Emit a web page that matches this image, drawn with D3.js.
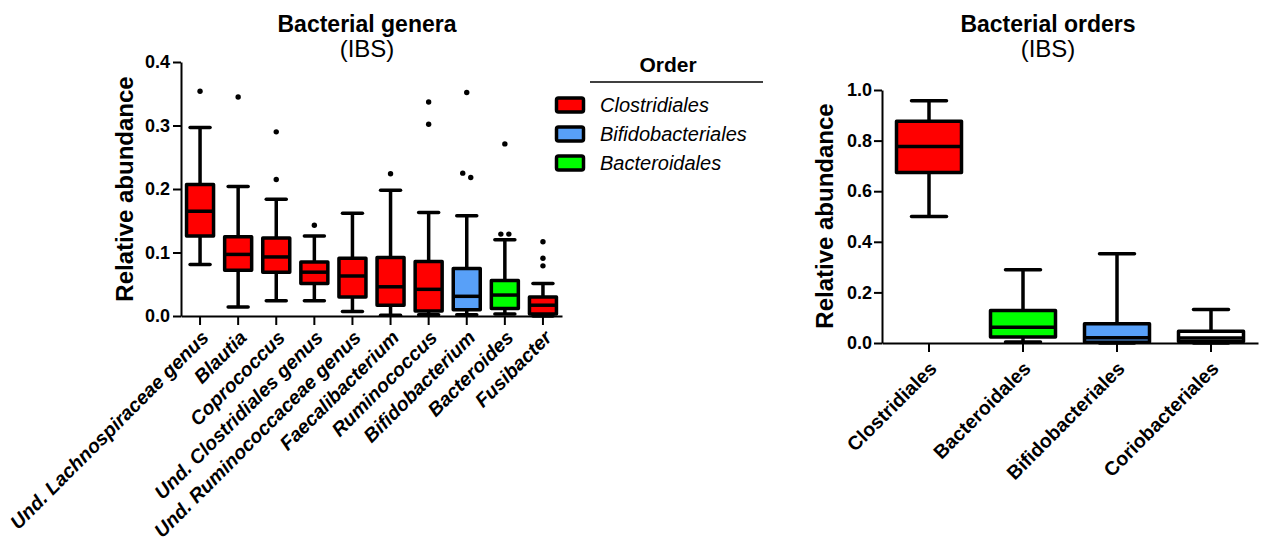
<!DOCTYPE html>
<html>
<head>
<meta charset="utf-8">
<script src="https://cdn.jsdelivr.net/npm/d3@7"></script>
<style>
  body { margin: 0; background: #fff; }
  text { font-family: "Liberation Sans", Arial, sans-serif; fill: #000; }
</style>
</head>
<body>
<svg id="chart" width="1264" height="543"></svg>
<script>
// ---- data: genera (left panel) ----
var genera = ["Und. Lachnospiraceae genus", "Blautia", "Coprococcus", "Und. Clostridiales genus",
  "Und. Ruminococcaceae genus", "Faecalibacterium", "Ruminococcus", "Bifidobacterium",
  "Bacteroides", "Fusibacter"];
var generaOrder = ["Clostridiales", "Clostridiales", "Clostridiales", "Clostridiales",
  "Clostridiales", "Clostridiales", "Clostridiales", "Bifidobacteriales",
  "Bacteroidales", "Clostridiales"];
var generaLow    = [0.081, 0.014, 0.024, 0.024, 0.007, 0.001, 0.002, 0.002, 0.003, 0.000];
var generaQ1     = [0.126, 0.072, 0.069, 0.051, 0.030, 0.017, 0.008, 0.010, 0.012, 0.003];
var generaMedian = [0.165, 0.097, 0.093, 0.069, 0.063, 0.046, 0.042, 0.031, 0.033, 0.017];
var generaQ3     = [0.207, 0.125, 0.123, 0.085, 0.091, 0.092, 0.086, 0.075, 0.056, 0.030];
var generaHigh   = [0.297, 0.204, 0.184, 0.126, 0.162, 0.198, 0.163, 0.158, 0.120, 0.051];
var generaOutliers = [[0.354], [0.345], [0.290, 0.215], [0.143], [], [0.224],
  [0.337, 0.302], [0.352, 0.225, 0.218], [0.271, 0.129, 0.129], [0.117, 0.091, 0.079]];
var generaTicks = [0, 0.1, 0.2, 0.3, 0.4];

// ---- data: orders (right panel) ----
var orders = ["Clostridiales", "Bacteroidales", "Bifidobacteriales", "Coriobacteriales"];
var ordersLow    = [0.500, 0.004, 0.000, 0.000];
var ordersQ1     = [0.674, 0.024, 0.003, 0.006];
var ordersMedian = [0.777, 0.062, 0.021, 0.020];
var ordersQ3     = [0.876, 0.128, 0.076, 0.046];
var ordersHigh   = [0.958, 0.290, 0.353, 0.132];
var ordersTicks = [0, 0.2, 0.4, 0.6, 0.8, 1.0];

var legendOrders = ["Clostridiales", "Bifidobacteriales", "Bacteroidales"];
var orderColor = {
  Clostridiales: "#ff0000",
  Bifidobacteriales: "#58a0f8",
  Bacteroidales: "#00ff00",
  Coriobacteriales: "#ffffff"
};

var svg = d3.select("#chart");
var SW = 3.5;

function boxPlot(g, x, y, names, low, q1, med, q3, high, colors, boxW, capW) {
  names.forEach(function(name, i) {
    var cx = x(name) + x.bandwidth() / 2;
    var b = g.append("g");
    // whiskers
    b.append("line").attr("x1", cx).attr("x2", cx)
      .attr("y1", y(low[i])).attr("y2", y(high[i]))
      .attr("stroke", "#000").attr("stroke-width", SW);
    [low[i], high[i]].forEach(function(v) {
      b.append("line").attr("x1", cx - capW / 2).attr("x2", cx + capW / 2)
        .attr("y1", y(v)).attr("y2", y(v))
        .attr("stroke", "#000").attr("stroke-width", SW).attr("stroke-linecap", "round");
    });
    b.append("rect")
      .attr("x", cx - boxW / 2).attr("width", boxW)
      .attr("y", y(q3[i])).attr("height", y(q1[i]) - y(q3[i]))
      .attr("fill", colors[i]).attr("stroke", "#000").attr("stroke-width", SW)
      .attr("stroke-linejoin", "round");
    b.append("line").attr("x1", cx - boxW / 2).attr("x2", cx + boxW / 2)
      .attr("y1", y(med[i])).attr("y2", y(med[i]))
      .attr("stroke", "#000").attr("stroke-width", SW);
  });
}

function styleAxis(g) {
  g.selectAll(".domain").attr("stroke-width", 2);
  g.selectAll(".tick line").attr("stroke-width", 2);
  g.selectAll("text").attr("font-size", 18).attr("font-weight", "bold");
}

// ================= left panel =================
var yG = d3.scaleLinear().domain([0, 0.4]).range([316, 62]);
var xG = d3.scaleBand().domain(genera).range([181, 562]);

var gl = svg.append("g");

gl.append("g").attr("transform", "translate(181,0)")
  .call(d3.axisLeft(yG).tickValues(generaTicks).tickFormat(d3.format(".1f"))
    .tickSize(8).tickPadding(3).tickSizeOuter(0))
  .call(styleAxis);

var xAxisG = gl.append("g").attr("transform", "translate(0,316)")
  .call(d3.axisBottom(xG).tickSize(9).tickSizeOuter(0))
  .call(styleAxis);
xAxisG.selectAll("text")
  .attr("font-style", "italic").attr("font-size", 19.5)
  .attr("text-anchor", "end").attr("x", 0).attr("y", 0).attr("dy", "0.35em")
  .attr("transform", "translate(5,18) rotate(-45)");

boxPlot(gl, xG, yG, genera, generaLow, generaQ1, generaMedian, generaQ3, generaHigh,
  generaOrder.map(function(o) { return orderColor[o]; }), 27, 20);

// outliers, dodged sideways when they would overlap
genera.forEach(function(name, i) {
  var cx = xG(name) + xG.bandwidth() / 2;
  var pts = generaOutliers[i].map(function(v) { return { v: v, dx: 0 }; });
  for (var k = 1; k < pts.length; k++) {
    if (Math.abs(yG(pts[k].v) - yG(pts[k - 1].v)) < 6) {
      pts[k - 1].dx = -4; pts[k].dx = 4;
    }
  }
  pts.forEach(function(p) {
    gl.append("circle").attr("cx", cx + p.dx).attr("cy", yG(p.v)).attr("r", 2.7).attr("fill", "#000");
  });
});

gl.append("text").attr("transform", "translate(133,189) rotate(-90)")
  .attr("text-anchor", "middle").attr("font-size", 24).attr("font-weight", "bold")
  .text("Relative abundance");
gl.append("text").attr("x", 367).attr("y", 32).attr("text-anchor", "middle")
  .attr("font-size", 23).attr("font-weight", "bold").text("Bacterial genera");
gl.append("text").attr("x", 367).attr("y", 57).attr("text-anchor", "middle")
  .attr("font-size", 24).text("(IBS)");

// legend
var lg = svg.append("g");
lg.append("text").attr("x", 668).attr("y", 72).attr("text-anchor", "middle")
  .attr("font-size", 21).attr("font-weight", "bold").text("Order");
lg.append("line").attr("x1", 590).attr("x2", 763).attr("y1", 82).attr("y2", 82)
  .attr("stroke", "#000").attr("stroke-width", 1.5);
legendOrders.forEach(function(o, i) {
  var cy = 105 + i * 29;
  lg.append("rect").attr("x", 556.5).attr("y", cy - 7).attr("width", 27).attr("height", 14)
    .attr("rx", 2).attr("fill", orderColor[o]).attr("stroke", "#000").attr("stroke-width", 3.5);
  lg.append("text").attr("x", 600).attr("y", cy + 7).attr("font-size", 20)
    .attr("font-style", "italic").text(o);
});

// ================= right panel =================
var yO = d3.scaleLinear().domain([0, 1]).range([343, 90]);
var xO = d3.scaleBand().domain(orders).range([882, 1258]);

var gr = svg.append("g");

gr.append("g").attr("transform", "translate(882,0)")
  .call(d3.axisLeft(yO).tickValues(ordersTicks).tickFormat(d3.format(".1f"))
    .tickSize(8).tickPadding(2).tickSizeOuter(0))
  .call(styleAxis);

var xAxisO = gr.append("g").attr("transform", "translate(0,343)")
  .call(d3.axisBottom(xO).tickSize(9).tickSizeOuter(0))
  .call(styleAxis);
xAxisO.selectAll("text")
  .attr("font-size", 19.5)
  .attr("text-anchor", "end").attr("x", 0).attr("y", 0).attr("dy", "0.35em")
  .attr("transform", "translate(4,22) rotate(-45)");

boxPlot(gr, xO, yO, orders, ordersLow, ordersQ1, ordersMedian, ordersQ3, ordersHigh,
  orders.map(function(o) { return orderColor[o]; }), 65, 35);

gr.append("text").attr("transform", "translate(833,216) rotate(-90)")
  .attr("text-anchor", "middle").attr("font-size", 24).attr("font-weight", "bold")
  .text("Relative abundance");
gr.append("text").attr("x", 1048).attr("y", 32).attr("text-anchor", "middle")
  .attr("font-size", 23).attr("font-weight", "bold").text("Bacterial orders");
gr.append("text").attr("x", 1048).attr("y", 57).attr("text-anchor", "middle")
  .attr("font-size", 24).text("(IBS)");
</script>
</body>
</html>
